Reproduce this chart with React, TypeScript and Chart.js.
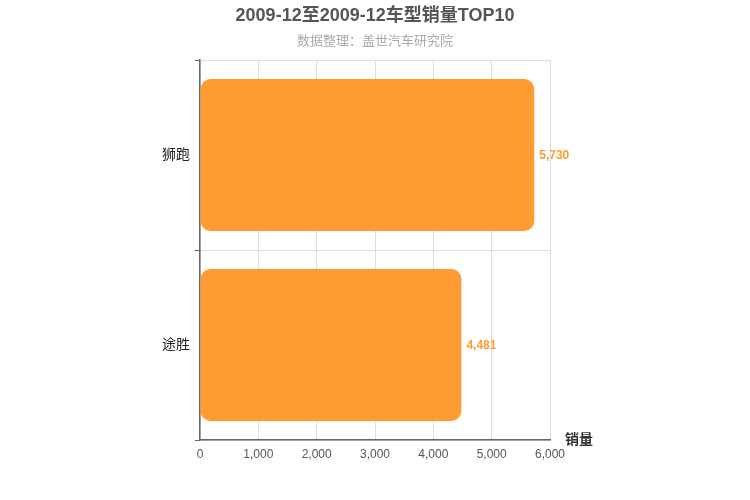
import { useEffect, useRef } from "react";
import { Chart, registerables, Plugin } from "chart.js";

Chart.register(...registerables);

const TITLE = "2009-12至2009-12车型销量TOP10";
const SUBTITLE = "数据整理：盖世汽车研究院";
const AXIS_NAME = "销量";
const MODELS = ["狮跑", "途胜"];
const SALES = [5730, 4481];

const FONT = "'Liberation Sans', Arial, 'Noto Sans CJK SC', sans-serif";
const BAR_COLOR = "#ff9b33";

const decor: Plugin<"bar"> = {
  id: "decor",
  afterDatasetsDraw(chart) {
    const { ctx } = chart;
    const meta = chart.getDatasetMeta(0);
    ctx.save();
    ctx.font = `bold 12px ${FONT}`;
    ctx.fillStyle = BAR_COLOR;
    ctx.textAlign = "left";
    ctx.textBaseline = "middle";
    meta.data.forEach((el: any, i) => {
      ctx.fillText(SALES[i].toLocaleString("en-US"), el.x + 5, el.y + 1);
    });
    ctx.restore();
  },
  afterDraw(chart) {
    const { ctx, chartArea, width } = chart;
    ctx.save();
    ctx.textAlign = "center";
    ctx.textBaseline = "middle";
    ctx.fillStyle = "#555";
    ctx.font = `bold 18px ${FONT}`;
    ctx.fillText(TITLE, width / 2, 16);
    ctx.fillStyle = "#aaa";
    ctx.font = `13px ${FONT}`;
    ctx.fillText(SUBTITLE, width / 2, 41);
    ctx.fillStyle = "#333";
    ctx.font = `bold 14px ${FONT}`;
    ctx.textAlign = "left";
    ctx.fillText(AXIS_NAME, chartArea.right + 15, chartArea.bottom);
    ctx.restore();
  },
};

export default function App() {
  const canvasRef = useRef<HTMLCanvasElement>(null);

  useEffect(() => {
    document.body.style.margin = "0";
    if (!canvasRef.current) return;
    const chart = new Chart(canvasRef.current, {
      type: "bar",
      data: {
        labels: MODELS,
        datasets: [{
          data: SALES,
          backgroundColor: BAR_COLOR,
          borderRadius: 10,
          borderSkipped: false,
          categoryPercentage: 0.8,
          barPercentage: 1,
        }],
      },
      options: {
        indexAxis: "y",
        animation: false,
        responsive: false,
        devicePixelRatio: 1,
        layout: { padding: { top: 60, right: 200, bottom: 0, left: 0 } },
        plugins: {
          legend: { display: false },
          tooltip: { enabled: false },
          title: { display: false },
        },
        scales: {
          x: {
            min: 0,
            max: 6000,
            ticks: {
              stepSize: 1000,
              color: "#555",
              font: { family: FONT, size: 12 },
              padding: 7,
              callback: (v) => Number(v).toLocaleString("en-US"),
            },
            grid: { color: "#ddd", drawTicks: false },
            border: { color: "#666", width: 1.5 },
            afterFit: (s) => { s.height = 60; },
          },
          y: {
            ticks: {
              color: "#222",
              font: { family: FONT, size: 14 },
              padding: 5,
            },
            grid: { color: "#ddd", tickLength: 5, tickColor: "#666" },
            border: { color: "#666", width: 1.5 },
            afterFit: (s) => { s.width = 200; },
          },
        },
      },
      plugins: [decor],
    });
    return () => chart.destroy();
  }, []);

  return (
    <div style={{ width: 750, height: 500, background: "#fff" }}>
      <canvas ref={canvasRef} width={750} height={500} />
    </div>
  );
}
